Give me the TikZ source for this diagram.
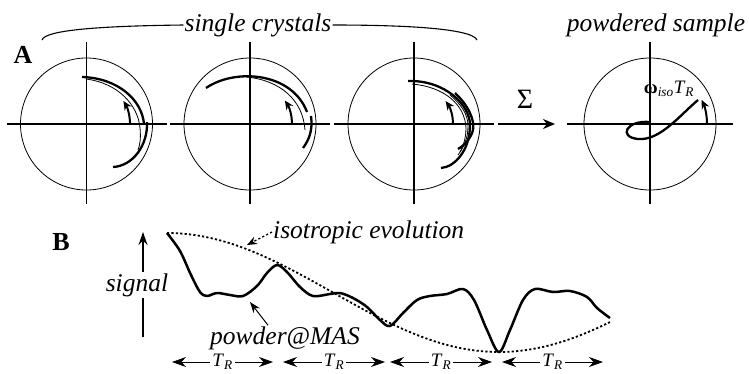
\documentclass[tikz,border=0pt]{standalone}
\usepackage{fontspec}
\setmainfont{Liberation Serif}
\usetikzlibrary{arrows.meta}
\tikzset{
  disc/.style={circle,draw,line width=0.8pt,minimum size=132pt,inner sep=0pt},
  axis/.style={line width=1.1pt},
  traj/.style={line width=2.3pt},
  thintraj/.style={line width=0.8pt},
  phase/.style={line width=2pt,-{Stealth[length=9pt,width=8pt]}},
  lbl/.style={font=\fontsize{25.5}{30}\selectfont\itshape,inner sep=1pt},
  letter/.style={font=\fontsize{26}{30}\selectfont\bfseries,inner sep=0pt},
  small/.style={font=\fontsize{19}{22}\selectfont,inner sep=1pt},
  signal/.style={line width=2.5pt,line join=round},
  iso/.style={line width=1.8pt,dash pattern=on 2.2pt off 2.2pt},
  period/.style={line width=1pt,{Stealth[length=14pt,width=10pt]}-{Stealth[length=14pt,width=10pt]}},
  line/.style={line width=1pt,-{Stealth[length=11pt,width=8pt]}}
}
\newcommand{\TR}{\textit{T}\textsubscript{\textit{R}}}

\begin{document}
\begin{tikzpicture}[x=1pt,y=-1pt]
\useasboundingbox (0,0) rectangle (749,373);

% A: circles with axes
\foreach \n/\cx/\hw in {1/86.5/80,2/250/80,3/414/80,4/650/83}{
  \node[disc] (c\n) at (\cx,124) {};
  \draw[axis] ([xshift=-\hw pt]c\n.center) -- ([xshift=\hw pt]c\n.center);
  \draw[axis] ([yshift=82pt]c\n.center) -- ([yshift=-80pt]c\n.center);
}

% single crystal trajectories
\draw[traj] (82,77) .. controls (118,78) and (142,100) .. (144,124);
\draw[thintraj] (86,79) .. controls (118,83) and (138,105) .. (140,128) .. controls (141,138) and (140,145) .. (138,150);
\draw[traj] (147,122) .. controls (148,145) and (133,166) .. (113,167);
\draw[phase] (130,124) arc[start angle=0,end angle=-32,radius=43.5];

\draw[traj] (206,88) .. controls (235,68) and (292,72) .. (307,112);
\draw[thintraj] (246,77) .. controls (280,80) and (303,100) .. (305,130);
\draw[traj] (311,116) .. controls (313,130) and (309,140) .. (303,148);
\draw[phase] (292,124) arc[start angle=0,end angle=-34,radius=42];

\draw[traj] (408,81) .. controls (445,80) and (470,105) .. (470,125) .. controls (470,150) and (455,167) .. (441,168);
\draw[thintraj] (412,84) .. controls (445,87) and (465,105) .. (466,128) .. controls (466,140) and (462,150) .. (458,155);
\draw[thintraj] (450,95) .. controls (462,105) and (468,115) .. (468,126) .. controls (468,138) and (464,146) .. (460,152);
\draw[traj] (455,93) .. controls (468,105) and (475,120) .. (473,130) .. controls (471,138) and (465,145) .. (458,149);
\draw[phase] (453,124) arc[start angle=0,end angle=-36,radius=39];

% powder sum
\draw[traj] (650,122) .. controls (626,120) and (618,137) .. (638,139) .. controls (660,141) and (680,115) .. (698,100);
\draw[traj] (c4.center) -- ++(57,0) coordinate (isoend);
\draw[phase] (isoend) arc[start angle=0,end angle=-25,radius=57];
\node[small] (omega) at (669,89) {{\bfseries ω}\textsubscript{\itshape iso}\TR};

\node[font=\fontsize{28}{30}\selectfont,inner sep=0pt] (sum) at (525,99) {Σ};
\draw[line,line width=2pt,-{Stealth[length=12pt,width=10pt]}] ([xshift=84pt]c3.center) -- ([xshift=-95pt]c4.center);

\node[letter] (A) at (23,55) {A};
\node[lbl] (sc) at (258,25) {single crystals};
\node[lbl] (ps) at (656,25) {powdered sample};
\draw[line width=1.1pt] (42,40) .. controls (45,30) and (100,26) .. (sc.west);
\draw[line width=1.1pt] (sc.east) .. controls (400,25) and (472,28) .. (477,40);

% B: signal under MAS
\node[letter] (B) at (61,242) {B};
\node[lbl] (sig) at (137,285) {signal};
\coordinate (sigbot) at (143,337);
\coordinate (sigtop) at (143,232);
\draw[line width=1.2pt] (sigbot) -- (sigbot |- sig.south);
\draw[line,line width=1.6pt,-{Stealth[length=13pt,width=9pt]}] (sigtop |- sig.north) -- (sigtop);

\draw[iso] plot[domain=167:610,samples=80] (\x,{292.5-59.5*cos(0.5422*(\x-167))});
\draw[signal] plot[smooth,tension=0.55] coordinates {(167,233) (180,251) (191,275) (200,292) (207,296) (217,293) (230,295) (243,296) (257,286) (267,273) (277,265) (287,272) (300,287) (313,296) (330,294) (340,293) (353,298) (367,307) (380,320) (390,326) (403,313) (417,300) (430,296) (447,294) (463,289) (474,300) (487,330) (499,352) (510,330) (523,300) (535,289) (553,292) (570,291) (587,297) (597,308) (610,318)};

\node[lbl,anchor=west] (isolab) at (272,232) {isotropic evolution};
\coordinate (isotip) at (247,245);
\draw[iso,line width=1.3pt,-{Stealth[length=10pt,width=8pt]}] (isolab.west) -- (isotip);

\node[lbl] (pow) at (285,338) {powder@MAS};
\coordinate (powtip) at (250,302);
\draw[line] ([xshift=-17pt]pow.north) -- (powtip);

% rotor periods
\foreach \a/\b [count=\i] in {172/273,283/385,390/492,502/603}{
  \coordinate (p\i a) at (\a,362);
  \coordinate (p\i b) at (\b,362);
  \draw[period] (p\i a) -- (p\i b) node[small,midway,fill=white,inner sep=2pt] {\TR};
}
\end{tikzpicture}
\end{document}
